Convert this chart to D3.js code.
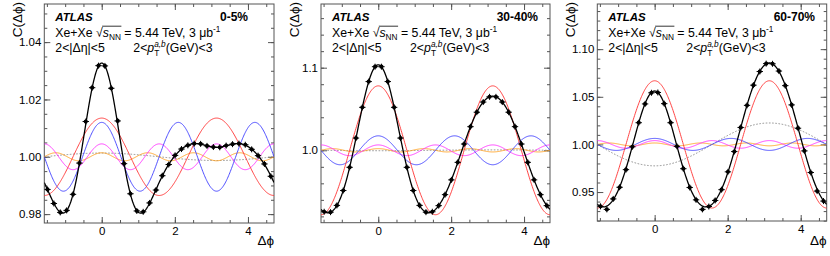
<!DOCTYPE html>
<html><head><meta charset="utf-8">
<script src="https://cdn.jsdelivr.net/npm/d3@7"></script>
<style>
body{margin:0;background:#fff}
svg{display:block}
text{font-family:"Liberation Sans",Arial,Helvetica,sans-serif;fill:#000;white-space:pre}
</style>
</head><body>
<svg id="c" width="830" height="256"></svg>
<script>
// ---------------- data ----------------
const centralities = ["0-5%", "30-40%", "60-70%"];
const nBins = 36;
const binCenters = d3.range(nBins).map(i => -Math.PI / 2 + (i + 0.5) * 2 * Math.PI / nBins);
const binHalfWidth = Math.PI / nBins;

const corr_0_5 = [0.9886, 0.9837, 0.9806, 0.9813, 0.9869, 0.9978, 1.0123, 1.0241, 1.0318,
  1.0317, 1.0239, 1.0125, 0.9976, 0.9871, 0.9811, 0.9808, 0.9839, 0.9884,
  0.9934, 0.9973, 1.0005, 1.0027, 1.0040, 1.0046, 1.0045, 1.0038, 1.0034,
  1.0033, 1.0039, 1.0044, 1.0046, 1.0042, 1.0026, 1.0004, 0.9975, 0.9932];
const corr_30_40 = [0.9256, 0.9251, 0.9333, 0.9513, 0.9794, 1.0148, 1.0520, 1.0832, 1.1012,
  1.1012, 1.0832, 1.0520, 1.0148, 0.9794, 0.9513, 0.9333, 0.9251, 0.9256,
  0.9330, 0.9463, 0.9642, 0.9854, 1.0076, 1.0286, 1.0461, 1.0584, 1.0647,
  1.0647, 1.0584, 1.0461, 1.0286, 1.0076, 0.9854, 0.9642, 0.9463, 0.9330];
const corr_60_70 = [0.9350, 0.9318, 0.9428, 0.9550, 0.9735, 0.9975, 1.0228, 1.0425, 1.0542,
  1.0545, 1.0428, 1.0228, 0.9980, 0.9745, 0.9548, 0.9418, 0.9318, 0.9348,
  0.9412, 0.9525, 0.9712, 0.9925, 1.0178, 1.0410, 1.0622, 1.0765, 1.0848,
  1.0846, 1.0770, 1.0617, 1.0415, 1.0170, 0.9932, 0.9705, 0.9510, 0.9405];

// Fourier component amplitudes (n = 1..5)
const harm_0_5   = [0.0013, 0.0135, 0.0120, 0.0045, 0.0014];
const harm_30_40 = [-0.0005, 0.0780, 0.0175, 0.0065, 0.0020];
const harm_60_70 = [-0.0225, 0.0668, 0.0063, 0.0040, 0.0015];

const yTicks_0_5   = [0.98, 1.00, 1.02, 1.04];
const yTicks_30_40 = [1.0, 1.1];
const yTicks_60_70 = [0.95, 1.00, 1.05, 1.10];
const yRange_0_5   = [0.9769, 1.0533];
const yRange_30_40 = [0.91235, 1.1771];
const yRange_60_70 = [0.9196, 1.1474];
const xTicks = [0, 2, 4];
const xRange = [-Math.PI / 2, 3 * Math.PI / 2];

// ---------------- layout / style ----------------
const panels = [
  {label: centralities[0], data: corr_0_5, harm: harm_0_5, yTicks: yTicks_0_5, yRange: yRange_0_5,
   fmt: ".2f", minor: 0.005, x0: 44.3, x1: 274, y0: 4, y1: 223, labelRight: 248},
  {label: centralities[1], data: corr_30_40, harm: harm_30_40, yTicks: yTicks_30_40, yRange: yRange_30_40,
   fmt: ".1f", minor: 0.02, x0: 321, x1: 550, y0: 4, y1: 222.7, labelRight: 538},
  {label: centralities[2], data: corr_60_70, harm: harm_60_70, yTicks: yTicks_60_70, yRange: yRange_60_70,
   fmt: ".2f", minor: 0.01, x0: 597.3, x1: 826.7, y0: 4, y1: 221, labelRight: 815}
];
const harmStyles = [
  {color: "#8c8c8c", dash: "1.6,1.6", width: 1},
  {color: "#ff3030", dash: null, width: 0.9},
  {color: "#3c3cff", dash: null, width: 0.9},
  {color: "#ff30ff", dash: null, width: 0.9},
  {color: "#ffa020", dash: null, width: 0.9}
];

const svg = d3.select("#c");
const defs = svg.append("defs");

function rich(g, x, y, segs) {
  let cx = x, lastStart = x;
  const pos = {};
  for (const s of segs) {
    const sx = s.stack ? lastStart : cx;
    const t = g.append("text")
      .attr("x", sx).attr("y", y + (s.dy || 0))
      .attr("font-size", s.size)
      .attr("font-style", s.italic ? "italic" : null)
      .attr("font-weight", s.bold ? "bold" : null)
      .text(s.t);
    const w = t.node().getComputedTextLength();
    if (s.key) pos[s.key] = {x0: sx, x1: sx + w};
    if (s.stack) { cx = Math.max(cx, sx + w); }
    else { lastStart = sx; cx = sx + w; }
  }
  return pos;
}

panels.forEach((p, pi) => {
  const x = d3.scaleLinear().domain(xRange).range([p.x0, p.x1]);
  const y = d3.scaleLinear().domain(p.yRange).range([p.y1, p.y0]);
  const g = svg.append("g");

  const clipId = "clip" + pi;
  defs.append("clipPath").attr("id", clipId).append("rect")
    .attr("x", p.x0).attr("y", p.y0).attr("width", p.x1 - p.x0).attr("height", p.y1 - p.y0);

  // axes: major & minor, inward, mirrored
  const axCol = "#555";
  const yMinor = d3.range(Math.ceil(p.yRange[0] / p.minor) * p.minor, p.yRange[1], p.minor);
  const xMinor = d3.range(-1.5, 4.75, 0.5);
  const styleAxis = sel => { sel.select(".domain").remove(); sel.selectAll("line").attr("stroke", axCol); sel.selectAll("text").attr("font-size", 11.5).attr("fill", "#000").attr("font-family", null); };

  g.append("g").attr("transform", `translate(${p.x0},0)`)
    .call(d3.axisLeft(y).tickValues(yMinor).tickSize(-3).tickFormat(""))
    .call(styleAxis);
  g.append("g").attr("transform", `translate(${p.x0},0)`)
    .call(d3.axisLeft(y).tickValues(p.yTicks).tickSize(-6).tickPadding(3).tickFormat(d3.format(p.fmt)))
    .call(styleAxis);
  g.append("g").attr("transform", `translate(${p.x1},0)`)
    .call(d3.axisRight(y).tickValues(yMinor).tickSize(-3).tickFormat(""))
    .call(styleAxis);
  g.append("g").attr("transform", `translate(${p.x1},0)`)
    .call(d3.axisRight(y).tickValues(p.yTicks).tickSize(-6).tickFormat(""))
    .call(styleAxis);
  g.append("g").attr("transform", `translate(0,${p.y1})`)
    .call(d3.axisBottom(x).tickValues(xMinor).tickSize(-3).tickFormat(""))
    .call(styleAxis);
  g.append("g").attr("transform", `translate(0,${p.y1})`)
    .call(d3.axisBottom(x).tickValues(xTicks).tickSize(-6).tickPadding(4).tickFormat(d3.format("d")))
    .call(styleAxis);
  g.append("g").attr("transform", `translate(0,${p.y0})`)
    .call(d3.axisTop(x).tickValues(xMinor).tickSize(-3).tickFormat(""))
    .call(styleAxis);
  g.append("g").attr("transform", `translate(0,${p.y0})`)
    .call(d3.axisTop(x).tickValues(xTicks).tickSize(-6).tickFormat(""))
    .call(styleAxis);

  g.append("rect").attr("x", p.x0).attr("y", p.y0)
    .attr("width", p.x1 - p.x0).attr("height", p.y1 - p.y0)
    .attr("fill", "none").attr("stroke", axCol).attr("stroke-width", 1);

  // curves
  const samples = d3.range(0, 401).map(i => xRange[0] + (xRange[1] - xRange[0]) * i / 400);
  const line = d3.line().x(d => x(d[0])).y(d => y(d[1]));
  const cg = g.append("g").attr("clip-path", `url(#${clipId})`);
  [0, 4, 3, 2, 1].forEach(k => {
    const n = k + 1;
    const pts = samples.map(f => [f, 1 + p.harm[k] * Math.cos(n * f)]);
    cg.append("path").attr("d", line(pts)).attr("fill", "none")
      .attr("stroke", harmStyles[k].color).attr("stroke-width", harmStyles[k].width)
      .attr("stroke-dasharray", harmStyles[k].dash);
  });
  const fit = samples.map(f => [f, 1 + d3.sum(p.harm, (a, k) => a * Math.cos((k + 1) * f))]);
  cg.append("path").attr("d", line(fit)).attr("fill", "none")
    .attr("stroke", "#000").attr("stroke-width", 1.3);

  // data points
  const pg = cg.append("g");
  p.data.forEach((v, i) => {
    const cx = x(binCenters[i]), cy = y(v);
    pg.append("line").attr("x1", x(binCenters[i] - binHalfWidth)).attr("x2", x(binCenters[i] + binHalfWidth))
      .attr("y1", cy).attr("y2", cy).attr("stroke", "#000").attr("stroke-width", 1);
    pg.append("line").attr("x1", cx).attr("x2", cx).attr("y1", cy - 3).attr("y2", cy + 3)
      .attr("stroke", "#000").attr("stroke-width", 1);
    pg.append("circle").attr("cx", cx).attr("cy", cy).attr("r", 2.1).attr("fill", "#000");
  });

  // axis titles
  svg.append("text").attr("transform", `translate(${p.x0 - 22},${p.y0 - 2}) rotate(-90)`)
    .attr("text-anchor", "end").attr("font-size", 13.5).text("C(Δϕ)");
  svg.append("text").attr("x", p.x1).attr("y", 245)
    .attr("text-anchor", "end").attr("font-size", 13.5).text("Δϕ");

  // labels
  const tx = p.x0 + 11;
  svg.append("text").attr("x", tx).attr("y", 21).attr("font-size", 11.5)
    .attr("font-weight", "bold").attr("font-style", "italic").text("ATLAS");
  svg.append("text").attr("x", p.labelRight).attr("y", 21).attr("font-size", 12)
    .attr("font-weight", "bold").attr("text-anchor", "end").text(p.label);
  const tg = svg.append("g");
  const pos = rich(tg, tx, 37, [
    {t: "Xe+Xe ", size: 12.3},
    {t: "√", size: 12.3, key: "rad"},
    {t: "s", size: 12.3, italic: true, key: "s"},
    {t: "NN", size: 8.3, dy: 3, key: "nn"},
    {t: " = 5.44 TeV, 3 μb", size: 12.3},
    {t: "-1", size: 8.3, dy: -5}
  ]);
  tg.append("line").attr("x1", pos.rad.x1 - 0.6).attr("x2", pos.nn.x1 + 0.5)
    .attr("y1", 37 - 10.8).attr("y2", 37 - 10.8).attr("stroke", "#000").attr("stroke-width", 0.8);
  rich(tg, tx, 52, [{t: "2<|Δη|<5", size: 12.3}]);
  rich(tg, p.x0 + 89, 52, [
    {t: "2<", size: 12.3},
    {t: "p", size: 12.3, italic: true},
    {t: "a,b", size: 8.3, italic: true, dy: -5.5},
    {t: "T", size: 8.3, dy: 3.5, stack: true},
    {t: "(GeV)<3", size: 12.3}
  ]);
});
</script>
</body></html>
